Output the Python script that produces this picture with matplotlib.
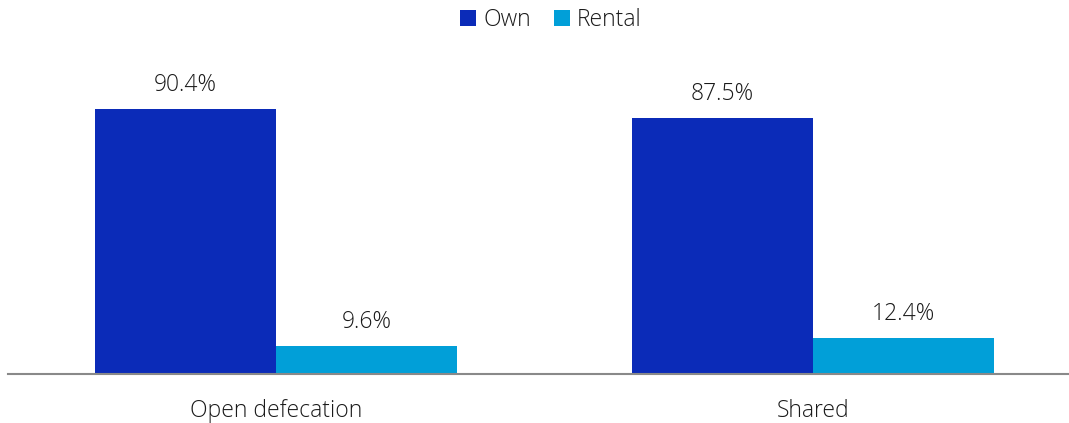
import matplotlib.pyplot as plt
import numpy as np

categories = ["Open defecation", "Shared"]
own = [90.4, 87.5]
rental = [9.6, 12.4]

plt.rcParams['font.family'] = ['Open Sans', 'DejaVu Sans']
plt.rcParams['font.weight'] = 'light'
text_color = "#1a1a1a"
fs = 16.5

fig = plt.figure(figsize=(10.69, 4.23), dpi=100)
# axes spans slightly past the right edge so both groups sit where they should
ax = fig.add_axes([7.5 / 1069, (423 - 374) / 423, 1074 / 1069, 310 / 423])

x = np.arange(len(categories))
w = 0.337
b1 = ax.bar(x - w / 2, own, w, color="#0b2bb8", label="Own")
b2 = ax.bar(x + w / 2, rental, w, color="#019fd8", label="Rental")

for bars, vals in [(b1, own), (b2, rental)]:
    for rect, v in zip(bars, vals):
        ax.text(rect.get_x() + rect.get_width() / 2, v + 4.0, f"{v}%",
                ha="center", va="bottom", fontsize=fs, color=text_color)

ax.set_xlim(-0.5, 1.5)
ax.set_ylim(0, 310 / 2.93)
ax.set_xticks(x)
ax.set_xticklabels(categories, fontsize=fs, color=text_color)
ax.tick_params(axis="x", length=0, pad=18)
ax.set_yticks([])
for s in ["top", "right", "left"]:
    ax.spines[s].set_visible(False)
ax.spines["bottom"].set_color("#898989")
ax.spines["bottom"].set_linewidth(1.5)

fig.legend(loc="center", bbox_to_anchor=(551 / 1069, 1 - 20 / 423), ncol=2,
           frameon=False, fontsize=fs, handlelength=0.7, handleheight=0.7,
           handletextpad=0.3, columnspacing=1.0, labelcolor=text_color)

fig.savefig("out.png", dpi=100)
